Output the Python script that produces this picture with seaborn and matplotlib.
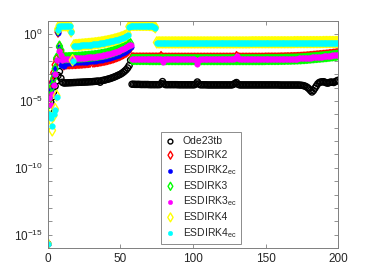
import numpy as np
import pandas as pd
import matplotlib
matplotlib.use("Agg")
import matplotlib.pyplot as plt
import seaborn as sns
from matplotlib.ticker import LogLocator, NullFormatter

# time step index 0..200
steps = list(range(201))

# log10 of the plotted error
ode23tb_log = [
    -15.7, -5.6, -5.1, -4.7, -4.3, -3.9, -3.5, -3.1, -2.8, -3.3,
    -3.6, -3.66, -3.65, -3.65, -3.64, -3.64, -3.63, -3.63, -3.62, -3.62,
    -3.61, -3.61, -3.60, -3.60, -3.59, -3.59, -3.58, -3.58, -3.57, -3.56,
    -3.56, -3.55, -3.54, -3.53, -3.52, -3.51, -3.60, -3.48, -3.46, -3.44,
    -3.41, -3.38, -3.35, -3.32, -3.28, -3.24, -3.20, -3.15, -3.10, -3.05,
    -3.00, -2.93, -2.85, -2.76, -2.66, -2.53, -2.35, -1.95, -3.75, -3.75,
    -3.76, -3.76, -3.76, -3.76, -3.77, -3.77, -3.77, -3.77, -3.77, -3.77,
    -3.78, -3.78, -3.78, -3.78, -3.78, -3.78, -3.78, -3.78, -3.70, -3.55,
    -3.72, -3.78, -3.78, -3.78, -3.78, -3.78, -3.78, -3.78, -3.78, -3.78,
    -3.79, -3.79, -3.79, -3.79, -3.79, -3.79, -3.79, -3.79, -3.79, -3.79,
    -3.79, -3.79, -3.72, -3.58, -3.72, -3.79, -3.79, -3.79, -3.79, -3.79,
    -3.80, -3.80, -3.80, -3.80, -3.80, -3.80, -3.80, -3.80, -3.80, -3.80,
    -3.80, -3.80, -3.80, -3.80, -3.80, -3.80, -3.80, -3.80, -3.75, -3.68,
    -3.62, -3.75, -3.80, -3.80, -3.80, -3.80, -3.80, -3.80, -3.80, -3.80,
    -3.80, -3.80, -3.80, -3.80, -3.80, -3.80, -3.80, -3.80, -3.80, -3.80,
    -3.80, -3.80, -3.80, -3.80, -3.80, -3.80, -3.80, -3.80, -3.80, -3.80,
    -3.81, -3.81, -3.81, -3.81, -3.81, -3.81, -3.81, -3.81, -3.81, -3.81,
    -3.81, -3.81, -3.81, -3.81, -3.82, -3.83, -3.85, -3.88, -3.93, -4.00,
    -4.10, -4.22, -4.33, -4.22, -4.05, -3.88, -3.72, -3.62, -3.58, -3.57,
    -3.56, -3.60, -3.65, -3.67, -3.62, -3.58, -3.60, -3.62, -3.56, -3.50,
    -3.45,
]

esdirk2_log = [
    -15.7, -4.9, -4.2, -3.6, -2.9, -2.3, -1.9, 0.15, -0.95, -1.35,
    -2.0, -2.3, -2.23, -2.23, -2.22, -2.22, -2.21, -2.21, -2.20, -2.20,
    -2.19, -2.18, -2.18, -2.17, -2.16, -2.15, -2.14, -2.13, -2.12, -2.11,
    -1.75, -2.09, -2.08, -2.06, -2.05, -2.03, -2.01, -1.99, -1.97, -1.95,
    -1.93, -1.90, -1.87, -1.84, -1.81, -1.78, -1.74, -1.70, -1.66, -1.62,
    -1.57, -1.52, -1.46, -1.40, -1.34, -1.26, -1.12, -0.98, -1.77, -1.78,
    -1.79, -1.79, -1.79, -1.79, -1.79, -1.79, -1.79, -1.79, -1.79, -1.79,
    -1.79, -1.79, -1.79, -1.79, -1.79, -1.79, -1.79, -1.79, -1.68, -1.79,
    -1.80, -1.80, -1.80, -1.80, -1.80, -1.80, -1.80, -1.80, -1.80, -1.80,
    -1.80, -1.80, -1.80, -1.80, -1.80, -1.80, -1.80, -1.80, -1.80, -1.80,
    -1.80, -1.80, -1.80, -1.80, -1.80, -1.80, -1.80, -1.80, -1.80, -1.80,
    -1.80, -1.80, -1.80, -1.80, -1.80, -1.80, -1.80, -1.80, -1.80, -1.80,
    -1.80, -1.80, -1.80, -1.80, -1.80, -1.80, -1.80, -1.80, -1.80, -1.80,
    -1.68, -1.76, -1.80, -1.80, -1.80, -1.80, -1.80, -1.80, -1.80, -1.80,
    -1.80, -1.80, -1.80, -1.80, -1.80, -1.80, -1.80, -1.80, -1.80, -1.80,
    -1.79, -1.79, -1.79, -1.79, -1.79, -1.79, -1.79, -1.79, -1.79, -1.79,
    -1.78, -1.78, -1.78, -1.78, -1.77, -1.77, -1.77, -1.77, -1.76, -1.76,
    -1.76, -1.75, -1.75, -1.74, -1.74, -1.73, -1.72, -1.72, -1.71, -1.70,
    -1.69, -1.68, -1.67, -1.66, -1.65, -1.64, -1.63, -1.62, -1.61, -1.60,
    -1.59, -1.58, -1.57, -1.56, -1.54, -1.53, -1.52, -1.50, -1.49, -1.47,
    -1.45,
]

esdirk2ec_log = [
    -15.7, -4.8, -4.15, -3.6, -3.0, -2.5, -1.9, 0.1, -1.0, -2.3,
    -2.1, -2.4, -2.15, -2.15, -2.14, -2.14, -2.13, -2.13, -2.12, -2.12,
    -2.11, -2.10, -2.10, -2.09, -2.08, -2.07, -2.06, -2.05, -2.04, -2.03,
    -2.02, -2.01, -2.00, -1.98, -1.97, -1.95, -1.93, -1.91, -1.89, -1.87,
    -1.85, -1.82, -1.79, -1.76, -1.73, -1.70, -1.66, -1.62, -1.58, -1.54,
    -1.49, -1.44, -1.38, -1.32, -1.26, -1.18, -1.05, -0.95, -1.82, -1.82,
    -1.82, -1.82, -1.82, -1.82, -1.82, -1.82, -1.82, -1.82, -1.82, -1.82,
    -1.83, -1.83, -1.83, -1.83, -1.83, -1.83, -1.83, -1.83, -1.83, -1.83,
    -1.83, -1.83, -1.83, -1.83, -1.83, -1.83, -1.83, -1.83, -1.83, -1.83,
    -1.83, -1.83, -1.83, -1.83, -1.83, -1.83, -1.83, -1.83, -1.83, -1.83,
    -1.83, -1.83, -1.83, -1.80, -1.83, -1.83, -1.83, -1.83, -1.83, -1.83,
    -1.83, -1.83, -1.83, -1.83, -1.83, -1.83, -1.83, -1.83, -1.83, -1.83,
    -1.83, -1.83, -1.83, -1.83, -1.83, -1.83, -1.83, -1.83, -1.83, -1.83,
    -1.83, -1.83, -1.83, -1.83, -1.83, -1.83, -1.83, -1.83, -1.83, -1.83,
    -1.83, -1.83, -1.83, -1.83, -1.83, -1.83, -1.83, -1.83, -1.83, -1.83,
    -1.82, -1.82, -1.82, -1.82, -1.82, -1.82, -1.82, -1.82, -1.82, -1.82,
    -1.81, -1.81, -1.81, -1.81, -1.80, -1.80, -1.80, -1.80, -1.79, -1.79,
    -1.79, -1.78, -1.78, -1.77, -1.77, -1.76, -1.75, -1.75, -1.74, -1.73,
    -1.72, -1.71, -1.70, -1.69, -1.68, -1.67, -1.66, -1.65, -1.64, -1.63,
    -1.62, -1.61, -1.60, -1.59, -1.57, -1.56, -1.55, -1.53, -1.52, -1.50,
    -1.48,
]

esdirk3_log = [
    -15.7, -5.2, -4.6, -3.9, -3.3, -2.6, -1.8, 0.3, -0.9, -1.2,
    -1.8, -1.78, -1.77, -1.77, -1.76, -1.76, -1.75, -1.75, -1.74, -1.74,
    -1.73, -1.72, -1.72, -1.71, -1.70, -1.69, -1.68, -1.67, -1.66, -1.65,
    -1.64, -1.63, -1.62, -1.60, -1.59, -1.57, -1.55, -1.53, -1.51, -1.49,
    -1.47, -1.44, -1.41, -1.38, -1.35, -1.32, -1.28, -1.24, -1.20, -1.16,
    -1.11, -1.06, -1.00, -0.94, -0.88, -0.82, -0.76, -0.72, -1.90, -1.90,
    -1.90, -1.90, -1.90, -1.90, -1.90, -1.90, -1.90, -1.90, -1.90, -1.90,
    -1.91, -1.91, -1.91, -1.91, -1.91, -1.91, -1.91, -1.91, -1.91, -1.91,
    -1.91, -1.91, -1.91, -1.91, -1.91, -1.91, -1.91, -1.91, -1.91, -1.91,
    -1.91, -1.91, -1.91, -1.91, -1.91, -1.91, -1.91, -1.91, -1.91, -1.91,
    -1.91, -1.91, -1.91, -1.91, -1.91, -1.91, -1.91, -1.91, -1.91, -1.91,
    -1.91, -1.91, -1.91, -1.91, -1.91, -1.91, -1.91, -1.91, -1.91, -1.91,
    -1.91, -1.91, -1.91, -1.91, -1.91, -1.91, -1.91, -1.91, -1.91, -1.91,
    -1.91, -1.91, -1.91, -1.91, -1.91, -1.91, -1.91, -1.91, -1.91, -1.91,
    -1.91, -1.91, -1.91, -1.91, -1.91, -1.91, -1.91, -1.91, -1.91, -1.91,
    -1.90, -1.90, -1.90, -1.90, -1.90, -1.90, -1.90, -1.90, -1.90, -1.90,
    -1.89, -1.89, -1.89, -1.89, -1.88, -1.88, -1.88, -1.88, -1.87, -1.87,
    -1.87, -1.86, -1.86, -1.85, -1.85, -1.84, -1.83, -1.83, -1.82, -1.81,
    -1.80, -1.79, -1.78, -1.77, -1.76, -1.75, -1.74, -1.73, -1.72, -1.71,
    -1.70, -1.69, -1.68, -1.67, -1.65, -1.64, -1.63, -1.61, -1.60, -1.58,
    -1.56,
]

esdirk3ec_log = [
    -15.7, -4.8, -5.3, -4.5, -3.8, -3.0, -1.9, 0.3, -1.3, -1.6,
    -1.9, -1.86, -1.85, -1.85, -1.84, -1.84, -1.83, -1.83, -1.82, -1.82,
    -1.81, -1.80, -1.80, -1.79, -1.78, -1.77, -1.76, -1.75, -1.74, -1.73,
    -1.72, -1.71, -1.70, -1.68, -1.67, -1.65, -1.63, -1.61, -1.59, -1.57,
    -1.55, -1.52, -1.49, -1.46, -1.43, -1.40, -1.36, -1.32, -1.28, -1.24,
    -1.19, -1.14, -1.08, -1.02, -0.96, -0.90, -0.84, -0.80, -1.85, -1.86,
    -1.87, -1.87, -1.87, -1.87, -1.87, -1.87, -1.87, -1.87, -1.87, -1.87,
    -1.87, -1.87, -1.87, -1.88, -1.88, -1.88, -1.88, -1.88, -1.88, -2.05,
    -1.88, -1.88, -1.88, -1.88, -1.88, -1.88, -1.88, -1.88, -1.88, -1.88,
    -1.88, -1.88, -1.88, -1.88, -1.88, -1.88, -1.88, -1.88, -1.88, -1.88,
    -1.88, -1.88, -1.95, -2.20, -1.95, -1.88, -1.88, -1.88, -1.88, -1.88,
    -1.88, -1.88, -1.88, -1.88, -1.88, -1.88, -1.88, -1.88, -1.88, -1.88,
    -1.88, -1.88, -1.88, -1.88, -1.88, -1.88, -1.88, -1.88, -1.88, -1.80,
    -1.65, -1.82, -1.88, -1.88, -1.88, -1.88, -1.88, -1.88, -1.88, -1.88,
    -1.88, -1.88, -1.88, -1.88, -1.88, -1.88, -1.88, -1.88, -1.88, -1.88,
    -1.87, -1.87, -1.87, -1.87, -1.87, -1.87, -1.87, -1.87, -1.87, -1.87,
    -1.86, -1.86, -1.86, -1.86, -1.85, -1.85, -1.85, -1.85, -1.84, -1.84,
    -1.84, -1.83, -1.83, -1.82, -1.82, -1.81, -1.80, -1.80, -1.79, -1.78,
    -1.77, -1.76, -1.75, -1.74, -1.73, -1.72, -1.71, -1.70, -1.69, -1.68,
    -1.67, -1.66, -1.65, -1.64, -1.62, -1.61, -1.60, -1.58, -1.57, -1.55,
    -1.53,
]

esdirk4_log = [
    -15.7, -6.1, -6.4, -7.2, -6.1, -5.6, -4.6, 0.4, 0.66, 0.66,
    0.66, 0.66, 0.66, 0.66, 0.66, 0.64, 0.2, -1.95, -0.84, -0.83,
    -0.82, -0.81, -0.80, -0.79, -0.78, -0.77, -0.76, -0.75, -0.74, -0.73,
    -0.72, -0.71, -0.70, -0.68, -0.67, -0.65, -0.64, -0.62, -0.60, -0.58,
    -0.56, -0.54, -0.52, -0.49, -0.47, -0.44, -0.41, -0.38, -0.35, -0.32,
    -0.28, -0.24, -0.20, -0.15, -0.10, 0.02, 0.56, 0.68, 0.69, 0.69,
    0.69, 0.69, 0.69, 0.69, 0.69, 0.69, 0.69, 0.69, 0.69, 0.69,
    0.68, 0.68, 0.66, 0.61, 0.51, -0.62, -0.62, -0.62, -0.62, -0.62,
    -0.62, -0.62, -0.62, -0.62, -0.62, -0.62, -0.62, -0.62, -0.62, -0.62,
    -0.62, -0.62, -0.62, -0.62, -0.62, -0.62, -0.62, -0.62, -0.62, -0.62,
    -0.62, -0.62, -0.62, -0.62, -0.62, -0.62, -0.62, -0.62, -0.62, -0.62,
    -0.62, -0.62, -0.62, -0.62, -0.62, -0.62, -0.62, -0.62, -0.62, -0.62,
    -0.62, -0.62, -0.62, -0.62, -0.62, -0.62, -0.62, -0.62, -0.62, -0.62,
    -0.62, -0.62, -0.62, -0.62, -0.62, -0.62, -0.62, -0.62, -0.62, -0.62,
    -0.61, -0.61, -0.61, -0.61, -0.61, -0.61, -0.61, -0.61, -0.61, -0.61,
    -0.61, -0.61, -0.61, -0.61, -0.61, -0.61, -0.61, -0.61, -0.61, -0.61,
    -0.61, -0.61, -0.61, -0.61, -0.61, -0.61, -0.61, -0.61, -0.61, -0.61,
    -0.60, -0.60, -0.60, -0.60, -0.60, -0.60, -0.60, -0.60, -0.60, -0.60,
    -0.60, -0.60, -0.60, -0.60, -0.60, -0.60, -0.60, -0.60, -0.60, -0.60,
    -0.59, -0.59, -0.59, -0.59, -0.59, -0.59, -0.59, -0.59, -0.59, -0.59,
    -0.58,
]

esdirk4ec_log = [
    -15.7, -6.0, -6.3, -6.9, -6.0, -5.7, -4.7, 0.3, 0.6, 0.6,
    0.6, 0.6, 0.6, 0.6, 0.6, 0.58, 0.15, -2.0, -0.90, -0.89,
    -0.88, -0.87, -0.86, -0.85, -0.84, -0.83, -0.82, -0.81, -0.80, -0.79,
    -0.78, -0.77, -0.76, -0.74, -0.73, -0.71, -0.70, -0.68, -0.66, -0.64,
    -0.62, -0.60, -0.58, -0.55, -0.53, -0.50, -0.47, -0.44, -0.41, -0.38,
    -0.34, -0.30, -0.26, -0.21, -0.16, -0.05, 0.50, 0.62, 0.63, 0.63,
    0.63, 0.63, 0.63, 0.63, 0.63, 0.63, 0.63, 0.63, 0.63, 0.63,
    0.62, 0.62, 0.60, 0.55, 0.45, -0.68, -0.68, -0.68, -0.68, -0.68,
    -0.68, -0.68, -0.68, -0.68, -0.68, -0.68, -0.68, -0.68, -0.68, -0.68,
    -0.68, -0.68, -0.68, -0.68, -0.68, -0.68, -0.68, -0.68, -0.68, -0.68,
    -0.68, -0.68, -0.68, -0.68, -0.68, -0.68, -0.68, -0.68, -0.68, -0.68,
    -0.68, -0.68, -0.68, -0.68, -0.68, -0.68, -0.68, -0.68, -0.68, -0.68,
    -0.68, -0.68, -0.68, -0.68, -0.68, -0.68, -0.68, -0.68, -0.68, -0.68,
    -0.68, -0.68, -0.68, -0.68, -0.68, -0.68, -0.68, -0.68, -0.68, -0.68,
    -0.67, -0.67, -0.67, -0.67, -0.67, -0.67, -0.67, -0.67, -0.67, -0.67,
    -0.67, -0.67, -0.67, -0.67, -0.67, -0.67, -0.67, -0.67, -0.67, -0.67,
    -0.67, -0.67, -0.67, -0.67, -0.67, -0.67, -0.67, -0.67, -0.67, -0.67,
    -0.66, -0.66, -0.66, -0.66, -0.66, -0.66, -0.66, -0.66, -0.66, -0.66,
    -0.66, -0.66, -0.66, -0.66, -0.66, -0.66, -0.66, -0.66, -0.66, -0.66,
    -0.65, -0.65, -0.65, -0.65, -0.65, -0.65, -0.65, -0.65, -0.65, -0.65,
    -0.64,
]

labels = ['Ode23tb', 'ESDIRK2', 'ESDIRK2$_\\mathregular{ec}$', 'ESDIRK3',
          'ESDIRK3$_\\mathregular{ec}$', 'ESDIRK4', 'ESDIRK4$_\\mathregular{ec}$']
series = [ode23tb_log, esdirk2_log, esdirk2ec_log, esdirk3_log,
          esdirk3ec_log, esdirk4_log, esdirk4ec_log]

# marker, colour, open?, size
styles = [
    ('o', '#000000', True, 19),
    ('d', '#ff0000', True, 26),
    ('o', '#0000ff', False, 15),
    ('d', '#00ff00', True, 26),
    ('o', '#ff00ff', False, 16),
    ('d', '#ffff00', True, 32),
    ('o', '#00ffff', False, 17),
]

sns.set_style('ticks')
plt.rcParams['font.family'] = ['Liberation Sans', 'DejaVu Sans']
plt.rcParams['mathtext.fontset'] = 'custom'
plt.rcParams['mathtext.rm'] = 'Liberation Sans'

fig = plt.figure(figsize=(3.74, 2.8), dpi=100)
ax = fig.add_axes([0.128, 0.114, 0.776, 0.812])

for label, vals, (mk, col, hollow, size) in zip(labels, series, styles):
    df = pd.DataFrame({'step': steps, 'err': 10.0 ** np.array(vals)})
    if hollow:
        sns.scatterplot(data=df, x='step', y='err', ax=ax, marker=mk, s=size,
                        facecolor='none', edgecolor=col, linewidth=1.0,
                        label=label)
    else:
        sns.scatterplot(data=df, x='step', y='err', ax=ax, marker=mk, s=size,
                        facecolor=col, edgecolor=col, linewidth=0.3,
                        label=label)

ax.set_yscale('log')
ax.set_xlim(0, 200)
ax.set_ylim(1e-16, 1e1)
ax.set_xticks([0, 50, 100, 150, 200])
ax.set_yticks([1e-15, 1e-10, 1e-5, 1e0])
ax.yaxis.set_minor_locator(LogLocator(base=10, subs=[1.0], numticks=40))
ax.yaxis.set_minor_formatter(NullFormatter())
ax.set_xlabel('')
ax.set_ylabel('')

for sp in ax.spines.values():
    sp.set_color('#7f7f7f')
    sp.set_linewidth(0.7)
ax.tick_params(which='both', direction='in', top=True, right=True,
               length=3, width=0.6, color='#7f7f7f', labelsize=8.5,
               labelcolor='#262626')

leg = ax.legend(loc='upper left', bbox_to_anchor=(0.39, 0.51), borderaxespad=0,
                fontsize=7.5, frameon=True, fancybox=False, framealpha=1,
                edgecolor='#8c8c8c', handlelength=1.0, handletextpad=0.7,
                labelspacing=0.35, borderpad=0.4, scatterpoints=1,
                markerscale=0.8)
leg.get_frame().set_linewidth(0.7)

fig.savefig('out.png', dpi=100)
